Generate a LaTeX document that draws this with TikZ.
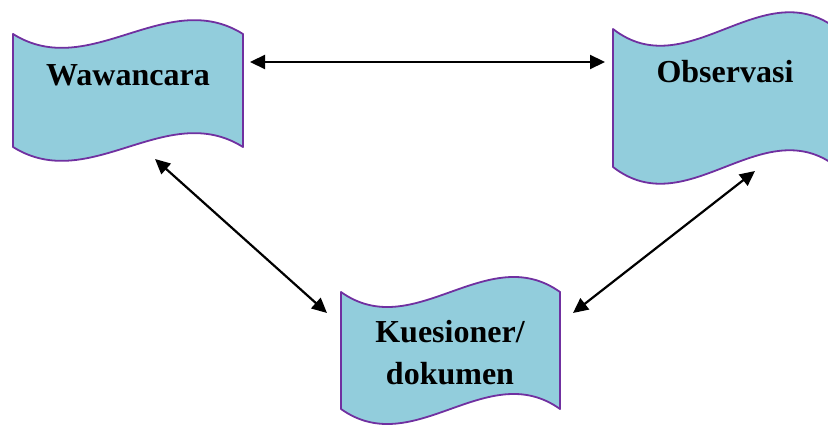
\documentclass[tikz,border=0pt]{standalone}
\usepackage{fontspec}
\setmainfont{Liberation Serif}
\usetikzlibrary{arrows.meta}
\definecolor{wavefill}{HTML}{92CDDC}
\definecolor{waveline}{HTML}{7030A0}
\tikzset{
  wavestyle/.style={fill=wavefill, draw=waveline, line width=1.8pt, line join=round},
  label/.style={font=\fontsize{32}{42}\selectfont\bfseries, inner sep=0pt, text depth=0pt, align=center},
  link/.style={line width=2.2pt, {Triangle[length=15pt,width=14pt]}-{Triangle[length=15pt,width=14pt]}}
}
\newcommand\wavebox[5]{%
  \filldraw[wavestyle] (#1,#2) .. controls ({#1+(#3-#1)/3},{#2+#5}) and ({#1+2*(#3-#1)/3},{#2-#5}) .. (#3,#2)
    -- (#3,#4) .. controls ({#1+2*(#3-#1)/3},{#4-#5}) and ({#1+(#3-#1)/3},{#4+#5}) .. (#1,#4) -- cycle;}
\begin{document}
\begin{tikzpicture}[x=1pt,y=-1pt]
\useasboundingbox (0,0) rectangle (828,425);
% wave shapes
\wavebox{13}{34}{243}{147}{48}
\wavebox{613}{29}{837}{167}{58}
\wavebox{341}{292}{560}{409}{52}
% labels
\node[label, anchor=base] (wawancara) at (128,86) {Wawancara};
\node[label, anchor=base] (observasi) at (725,83) {Observasi};
\node[label, anchor=south] (kuesioner) at (450,385) {Kuesioner/\\dokumen};
% connector ends
\coordinate (w-east) at (250,62);
\coordinate (o-west) at (605,62);
\coordinate (w-south) at (155,159);
\coordinate (k-nw) at (327,313);
\coordinate (k-ne) at (573,313);
\coordinate (o-south) at (755,171);
% connectors
\draw[link] (w-east) -- (o-west);
\draw[link] (w-south) -- (k-nw);
\draw[link] (k-ne) -- (o-south);
\end{tikzpicture}
\end{document}
